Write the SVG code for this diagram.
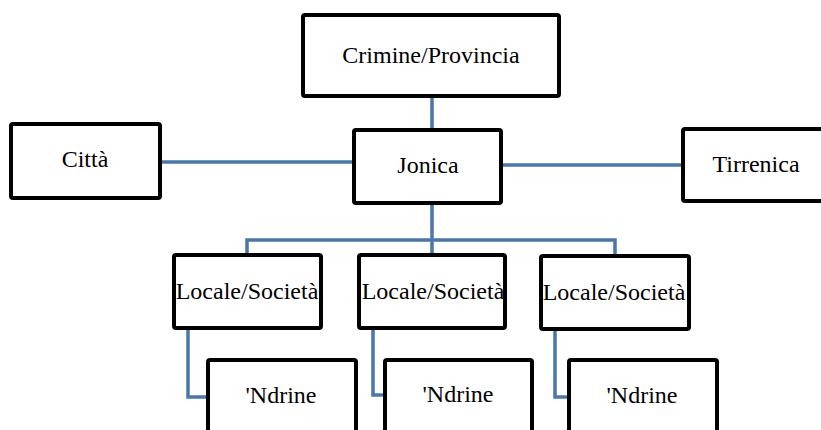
<svg xmlns="http://www.w3.org/2000/svg" width="821" height="430" viewBox="0 0 821 430">
<style>
.box{fill:#fff;stroke:#000;stroke-width:4;}
.lbl{font-family:'Liberation Serif', 'DejaVu Serif', serif;font-size:24px;fill:#000;text-anchor:middle;}
.con{fill:none;stroke:#4a76a8;stroke-width:3.5;}
</style>
<rect width="821" height="430" fill="#fff"/>
<g id="connectors">
<path class="con" d="M432,98 V130"/>
<path class="con" d="M160,162 H354"/>
<path class="con" d="M501,165 H683"/>
<path class="con" d="M432,203 V240"/>
<path class="con" d="M247,255 V240 H615 V256"/>
<path class="con" d="M432,240 V255"/>
<path class="con" d="M188,328 V397 H208"/>
<path class="con" d="M373,328 V395 H385"/>
<path class="con" d="M555,329 V397 H569"/>
</g>
<g id="crimine"><rect class="box" x="303" y="15" width="256" height="81" rx="2"/><text class="lbl" x="431" y="63">Crimine/Provincia</text></g>
<g id="citta"><rect class="box" x="11" y="124" width="149" height="74" rx="2"/><text class="lbl" x="85" y="167">Città</text></g>
<g id="jonica"><rect class="box" x="354" y="130" width="147" height="73" rx="2"/><text class="lbl" x="428" y="173">Jonica</text></g>
<g id="tirrenica"><rect class="box" x="683" y="129" width="150" height="72" rx="2"/><text class="lbl" x="756" y="172">Tirrenica</text></g>
<g id="locale1"><rect class="box" x="174" y="255" width="147" height="73" rx="2"/><text class="lbl" x="247" y="299">Locale/Società</text></g>
<g id="locale2"><rect class="box" x="359" y="255" width="146" height="73" rx="2"/><text class="lbl" x="433" y="299">Locale/Società</text></g>
<g id="locale3"><rect class="box" x="541" y="256" width="148" height="73" rx="2"/><text class="lbl" x="614" y="300">Locale/Società</text></g>
<g id="ndrine1"><rect class="box" x="208" y="360" width="148" height="100" rx="2"/><text class="lbl" x="281" y="403">'Ndrine</text></g>
<g id="ndrine2"><rect class="box" x="385" y="360" width="147" height="100" rx="2"/><text class="lbl" x="458" y="402">'Ndrine</text></g>
<g id="ndrine3"><rect class="box" x="569" y="360" width="148" height="100" rx="2"/><text class="lbl" x="642" y="403">'Ndrine</text></g>
</svg>
